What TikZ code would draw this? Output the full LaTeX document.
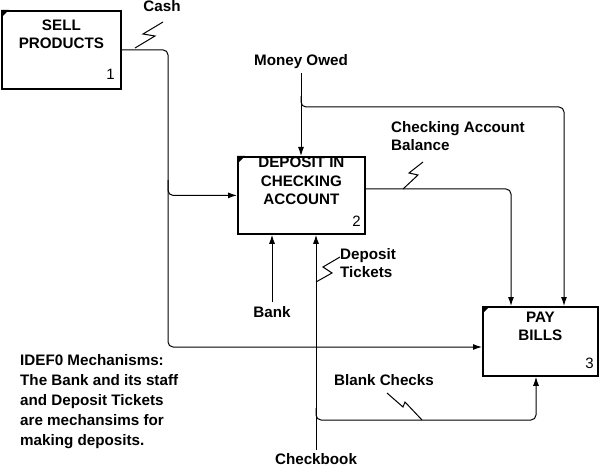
\documentclass[tikz,border=0pt]{standalone}
\usepackage{fontspec}
\setmainfont{Liberation Sans}
\usetikzlibrary{arrows.meta, positioning}

\begin{document}
\begin{tikzpicture}[x=1pt, y=-1pt,
    every node/.style={font=\fontsize{15.2}{18.5}\selectfont\bfseries, align=center},
    funcbox/.style={draw, line width=1.8pt, anchor=north west, inner sep=0pt},
    boxtitle/.style={anchor=north, inner sep=0pt},
    boxnum/.style={anchor=south east, font=\fontsize{15}{18}\selectfont, inner xsep=5pt, inner ysep=8pt},
    arrowlbl/.style={inner sep=4pt},
    wire/.style={line width=1pt, rounded corners=5pt},
    flow/.style={wire, -{Latex[length=9pt, width=6pt]}},
    bolt/.style={line width=1pt, line join=miter}
]
\useasboundingbox (0,0) rectangle (600,468);

\node[funcbox, minimum width=119pt, minimum height=78pt] (sell) at (1,10) {};
\node[boxtitle] (sell-t) at ([yshift=-9.6pt]sell.north) {SELL\\PRODUCTS};
\node[boxnum, inner xsep=7pt, inner ysep=9.6pt] (sell-n) at (sell.south east) {1};
\fill (sell.north west) -- ++(8,0) -- ++(-8,8) -- cycle;

\node[funcbox, minimum width=127pt, minimum height=77pt] (deposit) at (237,156) {};
\node[boxtitle] (deposit-t) at ([yshift=-1pt]deposit.north) {DEPOSIT IN\\CHECKING\\ACCOUNT};
\node[boxnum] (deposit-n) at (deposit.south east) {2};
\fill (deposit.north west) -- ++(8,0) -- ++(-8,8) -- cycle;

\node[funcbox, minimum width=115pt, minimum height=69pt] (pay) at (482,306) {};
\node[boxtitle] (pay-t) at ([yshift=-5.6pt]pay.north) {PAY\\BILLS};
\node[boxnum, inner ysep=7.6pt] (pay-n) at (pay.south east) {3};
\fill (pay.north west) -- ++(8,0) -- ++(-8,8) -- cycle;

\node[arrowlbl] (cash) at (162,6) {Cash};
\node[arrowlbl] (owed) at (301,62) {Money Owed};
\node[arrowlbl, anchor=north west, align=left, inner sep=0pt] (balance) at (391,121) {Checking Account\\Balance};
\node[arrowlbl, anchor=north west, align=left, inner sep=0pt] (tickets) at (340,248) {Deposit\\Tickets};
\node[arrowlbl] (bank) at (272,312) {Bank};
\node[arrowlbl] (blank) at (384,380) {Blank Checks};
\node[arrowlbl, inner sep=3pt] (checkbook) at (316,459) {Checkbook};
\node[anchor=north west, align=left, inner sep=0pt,
      font=\fontsize{15.2}{20}\selectfont\bfseries] (idef) at (20,354.6)
     {IDEF0 Mechanisms:\\The Bank and its staff\\and Deposit Tickets\\are mechansims for\\making deposits.};

\coordinate (cashturn) at (168,347);
\coordinate (cashsplit) at (168,180);
\coordinate (owedsplit) at (301,96);
\coordinate (owedturn) at (564,107);
\coordinate (balturn) at (511,189);
\coordinate (checksplit) at (316,408);
\coordinate (checkturn) at (536,420);

\draw[flow] (sell.east) -| (cashturn) -- (cashturn -| pay.west);
\draw[flow] (cashsplit) |- (deposit.west);
\draw[flow] (owed.south) -- (owed.south |- deposit.north);
\draw[flow] (owedsplit) |- (owedturn) -- (owedturn |- pay.north);
\draw[flow] (balturn -| deposit.east) -- (balturn) -- (balturn |- pay.north);
\draw[flow] (bank.north) -- (bank.north |- deposit.south);
\draw[flow] (checkbook.north) -- (checkbook.north |- deposit.south);
\draw[flow] (checksplit) |- (checkturn) -- (checkturn |- pay.south);

\draw[bolt] (135,48) -- (155,36) -- (143,34) -- (163,22);
\draw[bolt] (403,189) -- (418,175) -- (409,173) -- (423,162);
\draw[bolt] (316,282) -- (332,273) -- (323,267) -- (340,257);
\draw[bolt] (387,393) -- (403,407) -- (405,402) -- (422,420);
\end{tikzpicture}
\end{document}
